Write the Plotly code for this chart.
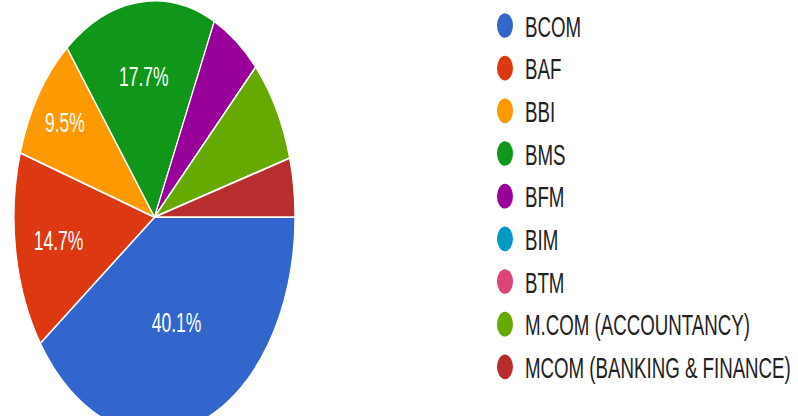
import plotly.graph_objects as go

# ---- data ----
categories = ["BCOM", "BAF", "BBI", "BMS", "BFM", "BIM", "BTM",
              "M.COM (ACCOUNTANCY)", "MCOM (BANKING & FINANCE)"]
percentages = [40.1, 14.7, 9.5, 17.7, 5.8, 0.0, 0.0, 7.8, 4.4]
colors = ["#3366cc", "#dc3912", "#ff9900", "#109618", "#990099",
          "#0099c6", "#dd4477", "#66aa00", "#b82e2e"]

# Google-style: only larger slices get a label
slice_text = [f"{v:.1f}%" if v >= 9 else "" for v in percentages]

W, H = 798, 282
STRETCH = 1.54  # the reference screenshot is stretched vertically

fig = go.Figure()
fig.add_trace(go.Pie(
    labels=categories,
    values=percentages,
    text=slice_text,
    textinfo="text",
    textposition="inside",
    insidetextorientation="horizontal",
    insidetextfont=dict(color="white", size=17.5, family="Liberation Sans, Arial, sans-serif"),
    marker=dict(colors=colors, line=dict(color="white", width=1.2)),
    sort=False,
    direction="clockwise",
    rotation=90,
    hole=0,
    showlegend=False,
    domain=dict(x=[14 / W, 295 / W], y=[0, 1]),
    hoverinfo="label+percent",
))

# legend entries with round markers
for name, col in zip(categories, colors):
    fig.add_trace(go.Scatter(
        x=[None], y=[None], mode="markers", name=name, legendgroup=name,
        marker=dict(size=16, color=col, symbol="circle"),
        hoverinfo="skip",
    ))

fig.update_layout(
    width=W, height=H,
    margin=dict(l=0, r=0, t=0, b=0, autoexpand=False),
    paper_bgcolor="white", plot_bgcolor="white",
    xaxis=dict(visible=False), yaxis=dict(visible=False),
    showlegend=True,
    legend=dict(
        x=485 / W, y=1.0075, xanchor="left", yanchor="top",
        font=dict(family="Liberation Sans, Arial, sans-serif", size=18.7, color="#222222"),
        tracegroupgap=0.4,
        maxheight=500,
        itemclick=False, itemdoubleclick=False,
        bgcolor="rgba(0,0,0,0)",
    ),
)

post = f"""
document.documentElement.style.overflow='hidden';
document.body.style.overflow='hidden';
document.body.style.margin='0';
var gd=document.getElementById('{{plot_id}}');
gd.style.transformOrigin='0 0';
gd.style.transform='scaleY({STRETCH})';
"""

fig.write_html("out.html", post_script=post, config={"displayModeBar": False})
